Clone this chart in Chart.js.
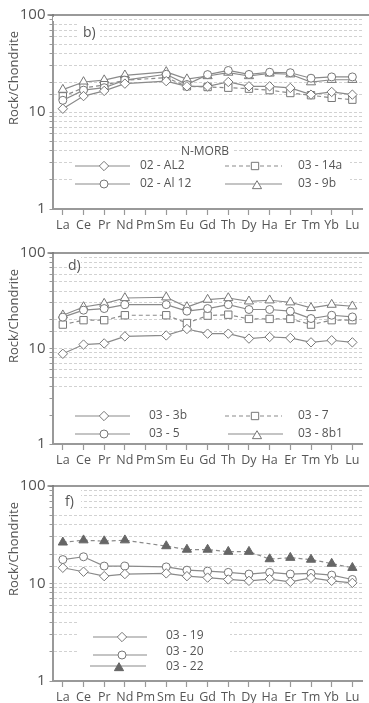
<!DOCTYPE html>
<html>
<head>
<meta charset="utf-8">
<script src="https://cdn.jsdelivr.net/npm/chart.js@4.4.1/dist/chart.umd.min.js"></script>
<style>
  body { margin: 0; background: #fff; }
  .panel { position: absolute; left: 0; width: 369px; }
</style>
</head>
<body>
<div class="panel" style="top:0;height:234px"><canvas id="pb"></canvas></div>
<div class="panel" style="top:234px;height:234px"><canvas id="pd"></canvas></div>
<div class="panel" style="top:468px;height:235px"><canvas id="pf"></canvas></div>
<script>
// REE categories (Pm not analysed)
const elements = ['La', 'Ce', 'Pr', 'Nd', 'Pm', 'Sm', 'Eu', 'Gd', 'Th', 'Dy', 'Ha', 'Er', 'Tm', 'Yb', 'Lu'];
const yLabels = [1, 10, 100];

// panel b) N-MORB
const al2  = [10.8, 14.6, 16.5, 19.6, null, 20.8, 18.4, 18.4, 20.4, 18.4, 18.4, 17.7, 15.1, 16.1, 15.1];
const al12 = [13.2, 16.8, 17.8, 21.3, null, 24.5, 19.2, 24.3, 26.8, 24.4, 25.7, 25.4, 22.3, 23.0, 23.0];
const s14a = [14.5, 17.8, 18.9, 21.3, null, 22.6, 18.4, 18.1, 17.8, 17.4, 16.8, 15.7, 14.9, 14.0, 13.4];
const s9b  = [17.0, 20.4, 21.3, 23.9, null, 25.9, 21.8, 23.5, 25.5, 23.5, 25.0, 24.5, 20.3, 21.5, 21.5];

// panel d)
const s3b  = [8.8, 11.0, 11.3, 13.4, null, 13.7, 16.0, 14.3, 14.3, 12.7, 13.2, 12.9, 11.6, 12.2, 11.6];
const s5   = [21.3, 25.2, 26.2, 28.8, null, 28.8, 24.6, 26.2, 28.8, 25.6, 25.6, 24.6, 20.6, 22.3, 21.4];
const s7   = [17.8, 19.8, 19.8, 22.3, null, 22.3, 18.5, 22.1, 22.6, 20.4, 20.4, 20.4, 17.8, 19.8, 19.8];
const s8b1 = [22.3, 27.2, 29.5, 33.8, null, 34.4, 27.2, 32.5, 33.8, 31.2, 32.0, 30.5, 26.6, 28.8, 27.7];

// panel f)
const s19 = [14.5, 13.2, 11.9, 12.5, null, 12.7, 11.9, 11.5, 11.0, 10.65, 11.1, 10.4, 11.4, 10.65, 10.15];
const s20 = [17.6, 18.8, 15.1, 15.1, null, 14.8, 13.7, 13.4, 13.0, 12.5, 13.0, 12.5, 12.7, 12.2, 11.0];
const s22 = [26.4, 27.8, 27.2, 27.8, null, 24.2, 22.3, 22.3, 21.2, 21.2, 17.8, 18.4, 17.6, 16.0, 14.5];

const FONT = "'Open Sans', sans-serif";
const TXT = '#555';

const MARK = {
  diamond: { pointStyle: 'rectRot', pointRadius: 4.7 },
  circle: { pointStyle: 'circle', pointRadius: 4 },
  square: { pointStyle: 'rect', pointRadius: 5.2 },
  triangle: { pointStyle: 'triangle', pointRadius: 5.3 },
};

function series(label, data, mark, dashed, filled) {
  return Object.assign({
    label: label,
    data: data,
    borderColor: '#8a8a8a',
    borderWidth: 1.2,
    borderDash: dashed ? [4, 3] : [],
    pointBackgroundColor: filled ? '#666' : '#fff',
    pointBorderColor: filled ? '#666' : '#777',
    pointBorderWidth: 1,
    spanGaps: true,
    tension: 0,
  }, MARK[mark]);
}

// white boxes behind the in-plot labels, legend samples, y title
const refPanel = {
  id: 'refPanel',
  beforeDatasetsDraw(chart, args, o) {
    const { ctx, chartArea: a } = chart;
    ctx.save();
    ctx.fillStyle = '#fff';
    o.boxes.forEach(b => ctx.fillRect(b[0], b[1], b[2], b[3]));
    ctx.strokeStyle = '#777';
    ctx.lineWidth = 1.5;
    ctx.beginPath();
    ctx.moveTo(a.left - 5, a.top);
    ctx.lineTo(chart.width, a.top);
    ctx.stroke();
    ctx.restore();
  },
  afterDatasetsDraw(chart, args, o) {
    const { ctx, chartArea: a } = chart;
    ctx.save();
    ctx.fillStyle = TXT;
    ctx.textBaseline = 'middle';
    ctx.font = '14px ' + FONT;
    ctx.fillText(o.tag[0], o.tag[1], o.tag[2]);
    ctx.font = '12px ' + FONT;
    if (o.heading) {
      ctx.textAlign = 'center';
      ctx.fillText(o.heading[0], o.heading[1], o.heading[2]);
      ctx.textAlign = 'left';
    }
    o.items.forEach(it => {
      const ds = chart.data.datasets[it.ds];
      ctx.strokeStyle = ds.borderColor;
      ctx.lineWidth = ds.borderWidth;
      ctx.setLineDash(it.dash || ds.borderDash);
      ctx.beginPath();
      ctx.moveTo(it.x1, it.y);
      ctx.lineTo(it.x2, it.y);
      ctx.stroke();
      ctx.setLineDash([]);
      ctx.fillStyle = ds.pointBackgroundColor;
      ctx.strokeStyle = ds.pointBorderColor;
      ctx.lineWidth = ds.pointBorderWidth;
      Chart.helpers.drawPoint(ctx, {
        pointStyle: ds.pointStyle, radius: ds.pointRadius, borderWidth: ds.pointBorderWidth, rotation: 0
      }, it.mx, it.my || it.y);
      ctx.fillStyle = TXT;
      ctx.fillText(ds.label, it.tx, it.ty || it.y);
    });
    // y axis title
    ctx.translate(14, a.top + 63);
    ctx.rotate(-Math.PI / 2);
    ctx.textAlign = 'center';
    ctx.font = '13px ' + FONT;
    ctx.fillText('Rock/Chondrite', 0, 0);
    ctx.restore();
  }
};

function makeChart(id, datasets, padTop, xHeight, panel) {
  return new Chart(document.getElementById(id), {
    type: 'line',
    data: { labels: elements, datasets: datasets },
    plugins: [refPanel],
    options: {
      responsive: true,
      maintainAspectRatio: false,
      animation: false,
      layout: { padding: { top: padTop, right: 2.5, left: 0, bottom: 0 } },
      plugins: {
        legend: { display: false },
        tooltip: { enabled: false },
        refPanel: panel,
      },
      scales: {
        x: {
          offset: true,
          afterFit: s => { s.height = xHeight; },
          grid: { drawOnChartArea: false, drawTicks: true, tickLength: 6, offset: false, tickColor: '#999', tickWidth: 1.2 },
          border: { color: '#999', width: 2 },
          ticks: { autoSkip: false, maxRotation: 0, padding: 3, color: TXT, font: { family: FONT, size: 12.5 } },
        },
        y: {
          type: 'logarithmic',
          min: 1,
          max: 100,
          afterFit: s => { s.width = 52.5; },
          grid: {
            color: c => (c.tick && (c.tick.value === 1 || c.tick.value === 100)) ? 'rgba(0,0,0,0)' : '#d2d2d2',
            lineWidth: 1,
            tickLength: 3,
            tickColor: '#999',
          },
          border: { color: '#999', width: 2, dash: [3, 2] },
          ticks: {
            autoSkip: false,
            padding: 4,
            color: TXT,
            font: { family: FONT, size: 15 },
            callback: v => yLabels.includes(v) ? String(v) : '',
          },
        },
      },
    },
  });
}

makeChart('pb', [
  series('02 - AL2', al2, 'diamond'),
  series('02 - Al 12', al12, 'circle'),
  series('03 - 14a', s14a, 'square', true),
  series('03 - 9b', s9b, 'triangle'),
], 15, 25, {
  tag: ['b)', 83, 33],
  heading: ['N-MORB', 205, 152],
  boxes: [[53, 17, 47, 4], [78, 22, 22, 17], [180, 144, 52, 14], [72, 157, 278, 36]],
  items: [
    { ds: 0, x1: 75, x2: 130, mx: 104, y: 166, tx: 140 },
    { ds: 2, x1: 225, x2: 282, mx: 255, y: 166, tx: 298 },
    { ds: 1, x1: 75, x2: 130, mx: 104, y: 184, tx: 140 },
    { ds: 3, x1: 225, x2: 282, mx: 257, y: 184, my: 186, tx: 298 },
  ],
});

makeChart('pd', [
  series('03 - 3b', s3b, 'diamond'),
  series('03 - 5', s5, 'circle'),
  series('03 - 7', s7, 'square', true),
  series('03 - 8b1', s8b1, 'triangle'),
], 19, 24, {
  tag: ['d)', 68, 32],
  boxes: [[54, 20, 27, 12], [54, 158, 315, 50]],
  items: [
    { ds: 0, x1: 75, x2: 130, mx: 104, y: 182, tx: 149 },
    { ds: 2, x1: 225, x2: 282, mx: 255, y: 182, tx: 298 },
    { ds: 1, x1: 75, x2: 130, mx: 104, y: 200, tx: 149 },
    { ds: 3, x1: 228, x2: 283, mx: 257, y: 200, my: 202, tx: 298 },
  ],
});

makeChart('pf', [
  series('03 - 19', s19, 'diamond'),
  series('03 - 20', s20, 'circle'),
  series('03 - 22', s22, 'triangle', true, true),
], 18, 22, {
  tag: ['f)', 65, 34],
  boxes: [[54, 20, 27, 22], [79, 149, 151, 62]],
  items: [
    { ds: 0, x1: 93, x2: 147, mx: 122, y: 169, ty: 168, tx: 166 },
    { ds: 1, x1: 93, x2: 147, mx: 122, y: 187, ty: 184, tx: 166 },
    { ds: 2, x1: 90, x2: 146, mx: 119, y: 198, my: 200, ty: 199, tx: 166, dash: [] },
  ],
});
</script>
</body>
</html>
